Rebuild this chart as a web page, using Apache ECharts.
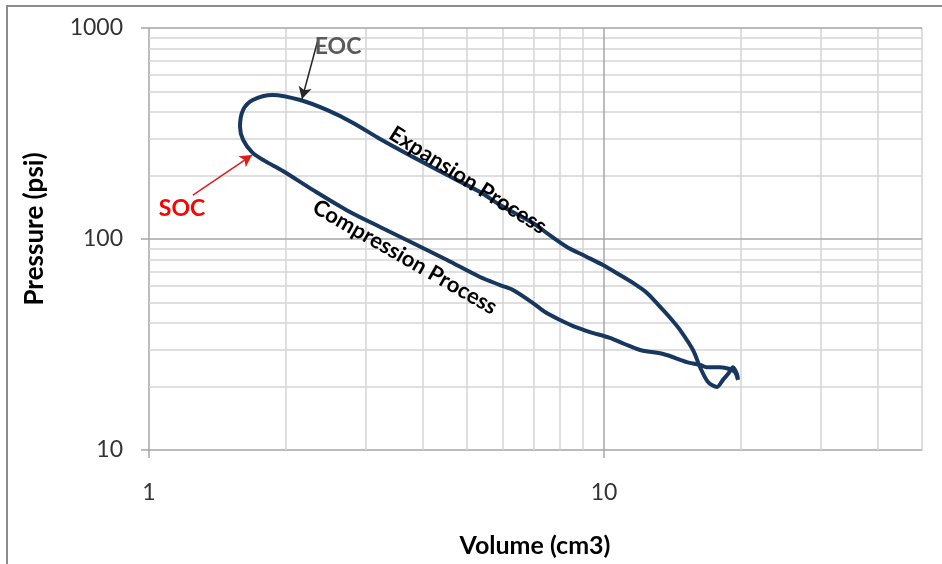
<!DOCTYPE html>
<html>
<head>
<meta charset="utf-8">
<script src="https://cdn.jsdelivr.net/npm/echarts@6/dist/echarts.min.js"></script>
<style>
  html, body { margin: 0; padding: 0; background: #fff; }
  #main { width: 942px; height: 564px; }
</style>
</head>
<body>
<div id="main"></div>
<script>
// P-V loop (compression branch right->left, then expansion left->right)
const volume = [19.7, 19.4, 18.9, 18.0, 16.8, 16.3, 15.2, 13.5, 12.0, 11.1, 10.3, 9.32, 8.64, 8.01, 7.42,
  6.98, 6.31, 5.91, 5.34, 4.52, 3.80, 3.22, 2.72, 2.29, 1.97, 1.80, 1.69, 1.61, 1.585, 1.61, 1.69, 1.87,
  2.15, 2.46, 2.81, 3.22, 3.80, 4.52, 5.34, 5.91, 6.98, 7.61, 8.29, 9.08, 9.95, 10.84, 11.58, 12.43, 13.48,
  14.11, 14.69, 15.69, 16.26, 16.93, 17.72, 18.26, 18.73, 19.21, 19.60, 19.70]
const pressure = [21.5, 23.4, 24.2, 24.7, 24.7, 25.3, 26.1, 28.5, 29.8, 31.8, 34.0, 36.2, 38.3, 41.3, 45.1,
  49.7, 57.3, 60.5, 66.1, 79.5, 95.7, 114, 137, 171, 210, 234, 256, 295, 340, 409, 456, 482,
  456, 409, 355, 298, 245, 201, 167, 145, 119, 104, 91.7, 83.1, 75.3, 67.5, 61.9, 55.5, 46.1,
  41.3, 37.1, 29.8, 24.7, 21.0, 19.9, 21.5, 22.9, 24.7, 22.9, 21.5]

// axis range, tick labels and gridlines
const xRange = [1, 50]
const yRange = [10, 1000]
const xTicks = [1, 10]
const yTicks = [10, 100, 1000]
const xMajorLines = [10]
const yMajorLines = [100, 1000]
const xMinorLines = [2, 3, 4, 5, 6, 7, 8, 9, 20, 30, 40, 50]
const yMinorLines = [20, 30, 40, 50, 60, 70, 80, 90, 200, 300, 400, 500, 600, 700, 800, 900]

// annotations (data coords)
const socArrow = [[1.249, 161.6], [1.684, 250]]
const eocArrow = [[2.351, 877], [2.169, 461]]
const socText = [1.182, 140]
const eocText = [2.603, 813]
const expansionText = [5.02, 190]
const compressionText = [3.65, 82]

const chart = echarts.init(document.getElementById('main'))
const FONT = 'Lato, "Open Sans", sans-serif'
const AXIS_GRAY = '#a6a6a6'
const MINOR_GRAY = '#d4d4d4'

const option = {
  animation: false,
  backgroundColor: '#fff',
  grid: { left: 149, right: 20, top: 28, bottom: 114, outerBoundsMode: 'none' },
  xAxis: {
    type: 'log', logBase: 10, min: xRange[0], max: xRange[1],
    axisLine: { show: true, lineStyle: { color: AXIS_GRAY, width: 1.5 } },
    axisTick: { show: true, length: 8, customValues: xTicks, lineStyle: { color: AXIS_GRAY, width: 1.5 } },
    splitLine: { show: false },
    axisLabel: { margin: 31, fontSize: 23, fontFamily: FONT, color: '#333', customValues: xTicks, formatter: v => String(Math.round(v)) }
  },
  yAxis: {
    type: 'log', logBase: 10, min: yRange[0], max: yRange[1],
    axisLine: { show: true, lineStyle: { color: AXIS_GRAY, width: 1.5 } },
    axisTick: { show: true, length: 8, customValues: yTicks, lineStyle: { color: AXIS_GRAY, width: 1.5 } },
    splitLine: { show: false },
    axisLabel: { margin: 26, fontSize: 23, fontFamily: FONT, color: '#333', customValues: yTicks, formatter: v => String(Math.round(v)) }
  },
  series: [
    {
      // gridlines
      type: 'line', data: [], z: 1, silent: true,
      markLine: {
        silent: true, symbol: 'none', animation: false, z: 1,
        label: { show: false },
        data: [
          ...xMinorLines.map(v => ({ xAxis: v, lineStyle: { color: MINOR_GRAY, width: 1.5, type: 'solid' } })),
          ...yMinorLines.map(v => ({ yAxis: v, lineStyle: { color: MINOR_GRAY, width: 1.5, type: 'solid' } })),
          ...xMajorLines.map(v => ({ xAxis: v, lineStyle: { color: AXIS_GRAY, width: 1.5, type: 'solid' } })),
          ...yMajorLines.map(v => ({ yAxis: v, lineStyle: { color: AXIS_GRAY, width: 1.5, type: 'solid' } }))
        ]
      }
    },
    {
      type: 'line', z: 3,
      data: volume.map((v, i) => [v, pressure[i]]),
      showSymbol: false, smooth: 0.3,
      lineStyle: { color: '#17375E', width: 4 },
      markLine: {
        silent: true, symbol: ['none', 'arrow'], symbolSize: [10, 12], animation: false,
        label: { show: false },
        data: [
          [{ coord: socArrow[0], lineStyle: { color: '#e31a1c', width: 1.5, type: 'solid' } }, { coord: socArrow[1] }],
          [{ coord: eocArrow[0], lineStyle: { color: '#262626', width: 1.5, type: 'solid' } }, { coord: eocArrow[1] }]
        ]
      }
    }
  ]
}
chart.setOption(option)

const toPx = p => chart.convertToPixel({ gridIndex: 0 }, p)
function label (pos, text, opts) {
  const p = toPx(pos)
  return {
    type: 'text', x: p[0], y: p[1], rotation: opts.rotation || 0, z: 10,
    style: {
      text: text, fill: opts.color || '#000', fontSize: opts.size || 22, fontWeight: 'bold',
      fontFamily: FONT, align: 'center', verticalAlign: 'middle'
    }
  }
}

chart.setOption({
  graphic: [
    // outer chart frame
    { type: 'rect', shape: { x: 7, y: 6, width: 980, height: 620 }, style: { fill: 'none', stroke: '#8c8c8c', lineWidth: 2 }, silent: true },
    { type: 'text', x: 35, y: 229, rotation: Math.PI / 2,
      style: { text: 'Pressure (psi)', fontSize: 26, fontWeight: 'bold', fontFamily: FONT, fill: '#000', align: 'center', verticalAlign: 'middle' } },
    { type: 'text', x: 535, y: 546,
      style: { text: 'Volume (cm3)', fontSize: 25, fontWeight: 'bold', fontFamily: FONT, fill: '#000', align: 'center', verticalAlign: 'middle' } },
    label(socText, 'SOC', { color: '#ff0000', size: 23 }),
    label(eocText, 'EOC', { color: '#595959', size: 23 }),
    label(expansionText, 'Expansion Process', { rotation: -0.565, size: 22 }),
    label(compressionText, 'Compression Process', { rotation: -0.52, size: 22 })
  ]
})
</script>
</body>
</html>
